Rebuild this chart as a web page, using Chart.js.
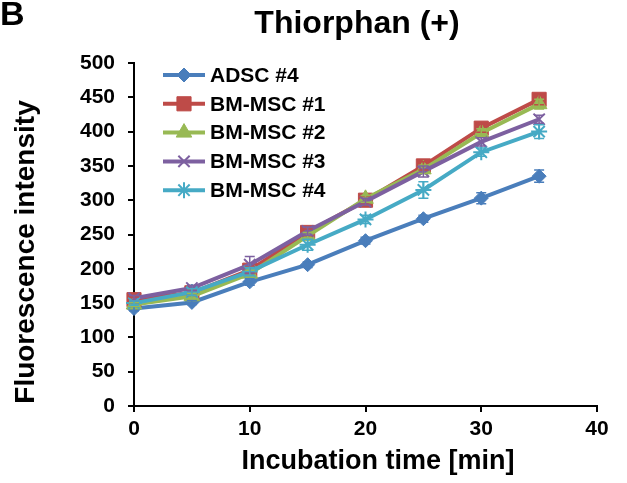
<!DOCTYPE html>
<html>
<head>
<meta charset="utf-8">
<script src="https://cdn.jsdelivr.net/npm/chart.js@4/dist/chart.umd.min.js"></script>
<style>
  html,body{margin:0;padding:0;background:#fff;}
  #wrap{position:relative;width:627px;height:483px;}
</style>
</head>
<body>
<div id="wrap"><canvas id="c" width="627" height="483"></canvas></div>
<script>
// ---- data ----
const times = [0, 5, 10, 15, 20, 25, 30, 35];
const seriesNames = ["ADSC #4", "BM-MSC #1", "BM-MSC #2", "BM-MSC #3", "BM-MSC #4"];
const adsc4 = [142, 151, 181, 206, 241, 273, 303, 335];
const bmMsc1 = [155, 165, 198, 253, 300, 350, 405, 447];
const bmMsc2 = [148, 160, 193, 248, 302, 345, 398, 440];
const bmMsc3 = [157, 172, 206, 255, 298, 342, 385, 418];
const bmMsc4 = [150, 166, 196, 235, 272, 315, 370, 400];
const adsc4Err = [3, 3, 5, 4, 5, 5, 8, 9];
const bmMsc1Err = [4, 4, 5, 5, 6, 6, 6, 8];
const bmMsc2Err = [3, 4, 5, 5, 5, 6, 6, 7];
const bmMsc3Err = [4, 4, 12, 6, 5, 8, 6, 6];
const bmMsc4Err = [3, 5, 6, 8, 6, 12, 6, 10];
const xTicks = [0, 10, 20, 30, 40];
const yTicks = [0, 50, 100, 150, 200, 250, 300, 350, 400, 450, 500];

const values = [adsc4, bmMsc1, bmMsc2, bmMsc3, bmMsc4];
const errors = [adsc4Err, bmMsc1Err, bmMsc2Err, bmMsc3Err, bmMsc4Err];
const colors = ["#4a7ebb", "#be4b48", "#98b954", "#7d60a0", "#46aac5"];
const styles = ["rectRot", "rect", "triangle", "crossRot", "star"];
const radii = [7, 10, 9, 8, 8];
const pbw = [1, 1, 1, 2, 2];

const FONT = "'Liberation Sans', Arial, sans-serif";

const datasets = values.map((vals, i) => ({
  label: seriesNames[i],
  data: times.map((t, j) => ({x: t, y: vals[j]})),
  errs: errors[i],
  borderColor: colors[i],
  backgroundColor: colors[i],
  borderWidth: 4,
  pointStyle: styles[i],
  pointRadius: radii[i],
  pointHoverRadius: radii[i],
  pointBackgroundColor: colors[i],
  pointBorderColor: colors[i],
  pointBorderWidth: pbw[i],
  tension: 0,
  clip: false,
  order: values.length - i
}));

const errorBars = {
  id: 'errorBars',
  afterDatasetsDraw(chart) {
    const ctx = chart.ctx;
    const xs = chart.scales.x, ys = chart.scales.y;
    chart.data.datasets.forEach((ds) => {
      ctx.save();
      ctx.strokeStyle = ds.borderColor;
      ctx.lineWidth = 1.5;
      ds.data.forEach((p, j) => {
        const e = ds.errs[j];
        if (!e) return;
        const px = xs.getPixelForValue(p.x);
        const y1 = ys.getPixelForValue(p.y - e);
        const y2 = ys.getPixelForValue(p.y + e);
        ctx.beginPath();
        ctx.moveTo(px, y1); ctx.lineTo(px, y2);
        ctx.moveTo(px - 5, y1); ctx.lineTo(px + 5, y1);
        ctx.moveTo(px - 5, y2); ctx.lineTo(px + 5, y2);
        ctx.stroke();
      });
      ctx.restore();
    });
  }
};

const texts = {
  id: 'texts',
  afterDraw(chart) {
    const ctx = chart.ctx;
    ctx.save();
    ctx.fillStyle = '#000';
    // panel letter
    ctx.font = "bold 34px " + FONT;
    ctx.textAlign = 'left'; ctx.textBaseline = 'alphabetic';
    ctx.fillText('B', 0, 25);
    // title
    ctx.font = "bold 32px " + FONT;
    ctx.textAlign = 'center';
    ctx.fillText('Thiorphan (+)', 357, 33);
    // x title
    ctx.font = "bold 27px " + FONT;
    ctx.fillText('Incubation time [min]', 378, 469);
    // y title
    ctx.save();
    ctx.translate(34, 252);
    ctx.rotate(-Math.PI / 2);
    ctx.font = "bold 28px " + FONT;
    ctx.fillText('Fluorescence intensity', 0, 0);
    ctx.restore();
    // legend
    const lx0 = 163, lx1 = 205, tx = 210, y0 = 75, dy = 28.8;
    chart.data.datasets.forEach((ds, i) => {
      const y = y0 + i * dy;
      ctx.strokeStyle = ds.borderColor;
      ctx.lineWidth = 4;
      ctx.beginPath(); ctx.moveTo(lx0, y); ctx.lineTo(lx1, y); ctx.stroke();
      ctx.fillStyle = ds.pointBackgroundColor;
      ctx.strokeStyle = ds.pointBorderColor;
      ctx.lineWidth = ds.pointBorderWidth;
      Chart.helpers.drawPoint(ctx, {pointStyle: ds.pointStyle, radius: ds.pointRadius, rotation: 0, borderWidth: ds.pointBorderWidth}, (lx0 + lx1) / 2, y);
      ctx.fillStyle = '#000';
      ctx.font = "bold 21px " + FONT;
      ctx.textAlign = 'left'; ctx.textBaseline = 'middle';
      ctx.fillText(ds.label, tx, y + 1);
    });
    ctx.restore();
  }
};

new Chart(document.getElementById('c'), {
  type: 'line',
  data: { datasets },
  options: {
    responsive: false,
    animation: false,
    events: [],
    layout: { padding: { left: 0, top: 63, right: 30, bottom: 0 } },
    plugins: { legend: { display: false }, title: { display: false }, tooltip: { enabled: false } },
    scales: {
      x: {
        type: 'linear', min: 0, max: 40,
        afterBuildTicks(s) { s.ticks = xTicks.map(v => ({value: v})); },
        afterFit(s) { s.height = 77; },
        border: { color: '#000', width: 2 },
        grid: { display: true, drawOnChartArea: false, drawTicks: true, tickLength: 6, color: '#000', lineWidth: 2 },
        ticks: { color: '#000', font: { family: FONT, size: 21, weight: 'bold' }, padding: 5, maxRotation: 0 }
      },
      y: {
        type: 'linear', min: 0, max: 500,
        afterBuildTicks(s) { s.ticks = yTicks.map(v => ({value: v})); },
        afterFit(s) { s.width = 134; },
        border: { color: '#000', width: 2 },
        grid: { display: true, drawOnChartArea: false, drawTicks: true, tickLength: 6, color: '#000', lineWidth: 2 },
        ticks: { color: '#000', font: { family: FONT, size: 21, weight: 'bold' }, padding: 13 }
      }
    }
  },
  plugins: [errorBars, texts]
});
</script>
</body>
</html>
